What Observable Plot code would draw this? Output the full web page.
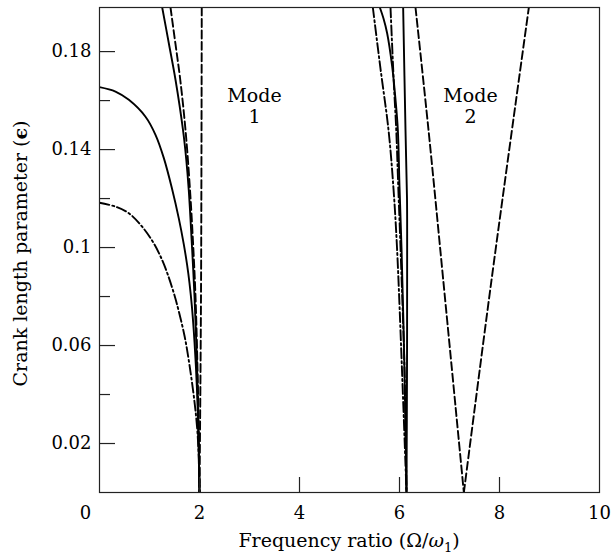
<!DOCTYPE html>
<html><head><meta charset="utf-8">
<script src="https://cdn.jsdelivr.net/npm/d3@7"></script>
<script src="https://cdn.jsdelivr.net/npm/@observablehq/plot@0.6"></script>
<style>body{margin:0;background:#fff;}</style>
</head><body><div id="chart"></div>
<script>
// ---- Tick values ----
const xTickLabels = [0, 2, 4, 6, 8, 10];
const xTickMarks = [2, 4, 6, 8];
const yMajorTicks = [0.02, 0.06, 0.1, 0.14, 0.18];
const yMinorTicks = [0.04, 0.08, 0.12, 0.16];

// ---- Mode 1 boundaries ----
const m1OuterSolidX = [0, 0.32, 0.587, 0.92, 1.12, 1.287, 1.453, 1.587, 1.687, 1.753, 1.8, 1.85, 1.9, 1.95, 1.98, 2.0];
const m1OuterSolidY = [0.1655, 0.1637, 0.1603, 0.1534, 0.146, 0.1365, 0.1238, 0.1118, 0.1012, 0.0928, 0.0855, 0.0755, 0.0615, 0.042, 0.0225, 0];
const m1DashDotX = [0, 0.32, 0.587, 0.853, 1.087, 1.253, 1.353, 1.45, 1.55, 1.7, 1.8, 1.9, 1.95, 1.98, 2.0];
const m1DashDotY = [0.1183, 0.1167, 0.114, 0.1085, 0.1017, 0.0949, 0.0897, 0.0838, 0.0768, 0.064, 0.052, 0.037, 0.027, 0.017, 0];
const m1SteepSolidX = [1.254, 1.39, 1.52, 1.67, 1.735, 1.785, 1.85, 1.9, 1.945, 1.975, 2.0];
const m1SteepSolidY = [0.198, 0.183, 0.1685, 0.148, 0.136, 0.1235, 0.1003, 0.08, 0.055, 0.03, 0];
const m1SteepDashedX = [1.42, 1.52, 1.615, 1.72, 1.81, 1.875, 1.92, 1.955, 1.98, 2.0];
const m1SteepDashedY = [0.198, 0.183, 0.1685, 0.148, 0.1235, 0.1003, 0.08, 0.055, 0.03, 0];
const m1EdgeDashedX = [2.045, 2.03, 2.0];
const m1EdgeDashedY = [0.198, 0.08, 0];

// ---- Mode 2 boundaries ----
const m2DashDotAX = [5.467, 5.62, 5.78, 5.88, 5.95, 6.05, 6.14];
const m2DashDotAY = [0.198, 0.173, 0.148, 0.124, 0.1, 0.05, 0];
const m2SolidCurveX = [5.607, 5.68, 5.753, 5.853, 5.92, 5.967, 6.0, 6.04, 6.1, 6.14];
const m2SolidCurveY = [0.198, 0.1935, 0.1875, 0.174, 0.1605, 0.148, 0.125, 0.1, 0.05, 0];
const m2DashDotBX = [5.82, 5.887, 5.935, 5.975, 6.02, 6.1, 6.14];
const m2DashDotBY = [0.198, 0.167, 0.148, 0.125, 0.1, 0.05, 0];
const m2SolidX = [6.073, 6.12, 6.15, 6.153, 6.15, 6.14];
const m2SolidY = [0.198, 0.148, 0.12, 0.1, 0.05, 0];
const m2DashedLeftX = [6.32, 6.58, 6.875, 7.287];
const m2DashedLeftY = [0.198, 0.148, 0.0867, 0];
const m2DashedRightX = [7.287, 7.84, 8.587];
const m2DashedRightY = [0, 0.0867, 0.198];

// ---- Annotations ----
const modeLabelText = ["Mode\n1", "Mode\n2"];
const modeLabelX = [3.1, 7.42];
const modeLabelY = [0.158, 0.158];

const curves = [
  {id: "m1OuterSolid", style: "solid", xs: m1OuterSolidX, ys: m1OuterSolidY},
  {id: "m1DashDot", style: "dashdot", xs: m1DashDotX, ys: m1DashDotY},
  {id: "m1SteepSolid", style: "solid", xs: m1SteepSolidX, ys: m1SteepSolidY},
  {id: "m1SteepDashed", style: "dashed", xs: m1SteepDashedX, ys: m1SteepDashedY},
  {id: "m1EdgeDashed", style: "dashed", xs: m1EdgeDashedX, ys: m1EdgeDashedY},
  {id: "m2DashDotA", style: "dashdot", xs: m2DashDotAX, ys: m2DashDotAY},
  {id: "m2SolidCurve", style: "solid", xs: m2SolidCurveX, ys: m2SolidCurveY},
  {id: "m2DashDotB", style: "dashdot", xs: m2DashDotBX, ys: m2DashDotBY},
  {id: "m2Solid", style: "solid", xs: m2SolidX, ys: m2SolidY},
  {id: "m2DashedLeft", style: "dashed", xs: m2DashedLeftX, ys: m2DashedLeftY},
  {id: "m2DashedRight", style: "dashed", xs: m2DashedRightX, ys: m2DashedRightY}
];
const rows = curves.flatMap(c => c.xs.map((x, i) => ({x, y: c.ys[i], id: c.id, style: c.style})));
const modeLabels = modeLabelText.map((t, i) => ({text: t, x: modeLabelX[i], y: modeLabelY[i]}));

const dash = {solid: null, dashed: "8,3.5", dashdot: "10,3,2,3"};
const lineMark = s => Plot.line(rows.filter(d => d.style === s), {
  x: "x", y: "y", z: "id", curve: "catmull-rom", stroke: "#000",
  strokeWidth: 1.9, strokeDasharray: dash[s], clip: true
});

const plot = Plot.plot({
  width: 613, height: 557,
  marginLeft: 99, marginRight: 14, marginTop: 7, marginBottom: 65,
  x: {domain: [0, 10]},
  y: {domain: [0, 0.198]},
  style: {fontFamily: "'DejaVu Serif', serif", fontSize: "18px", background: "#fff", color: "#000", overflow: "visible"},
  marks: [
    lineMark("solid"),
    lineMark("dashed"),
    lineMark("dashdot"),
    Plot.tickY(yMajorTicks, {y: d => d, insetRight: 484, stroke: "#222", strokeWidth: 1.2}),
    Plot.tickY(yMinorTicks, {y: d => d, insetRight: 489, stroke: "#222", strokeWidth: 1.2}),
    Plot.tickX(xTickMarks, {x: d => d, insetTop: 470, stroke: "#222", strokeWidth: 1.2}),
    Plot.axisY(yMajorTicks, {tickSize: 0, tickPadding: 8, tickFormat: d => String(d), label: null, fontSize: 18}),
    Plot.axisX(xTickLabels.filter(d => d !== 0), {tickSize: 0, tickPadding: 14, label: null, fontSize: 18}),
    Plot.axisX(xTickLabels.filter(d => d === 0), {tickSize: 0, tickPadding: 14, dx: -14, label: null, fontSize: 18}),
    Plot.text(modeLabels, {x: "x", y: "y", text: "text", fontSize: 19, lineHeight: 1.1, lineAnchor: "middle"}),
    Plot.frame({stroke: "#222", strokeWidth: 1.2})
  ]
});

const svg = d3.select(plot);
const [xr0, xr1] = plot.scale("x").range;
const yr = plot.scale("y").range;
const cx = (xr0 + xr1) / 2;
const cy = (yr[0] + yr[1]) / 2;

const xt = svg.append("text").attr("x", cx).attr("y", 547)
  .attr("text-anchor", "middle").attr("font-size", 19).attr("fill", "#000");
xt.append("tspan").text("Frequency ratio (Ω/");
xt.append("tspan").attr("font-style", "italic").text("ω");
xt.append("tspan").attr("font-size", 13).attr("dy", 5).text("1");
xt.append("tspan").attr("dy", -5).text(")");

const yt = svg.append("text").attr("transform", `translate(27,${cy + 4}) rotate(-90)`)
  .attr("text-anchor", "middle").attr("font-size", 19).attr("fill", "#000");
yt.append("tspan").text("Crank length parameter (");
yt.append("tspan").attr("font-weight", "bold").text("ϵ");
yt.append("tspan").text(")");

document.getElementById("chart").appendChild(plot);
</script>
</body></html>
